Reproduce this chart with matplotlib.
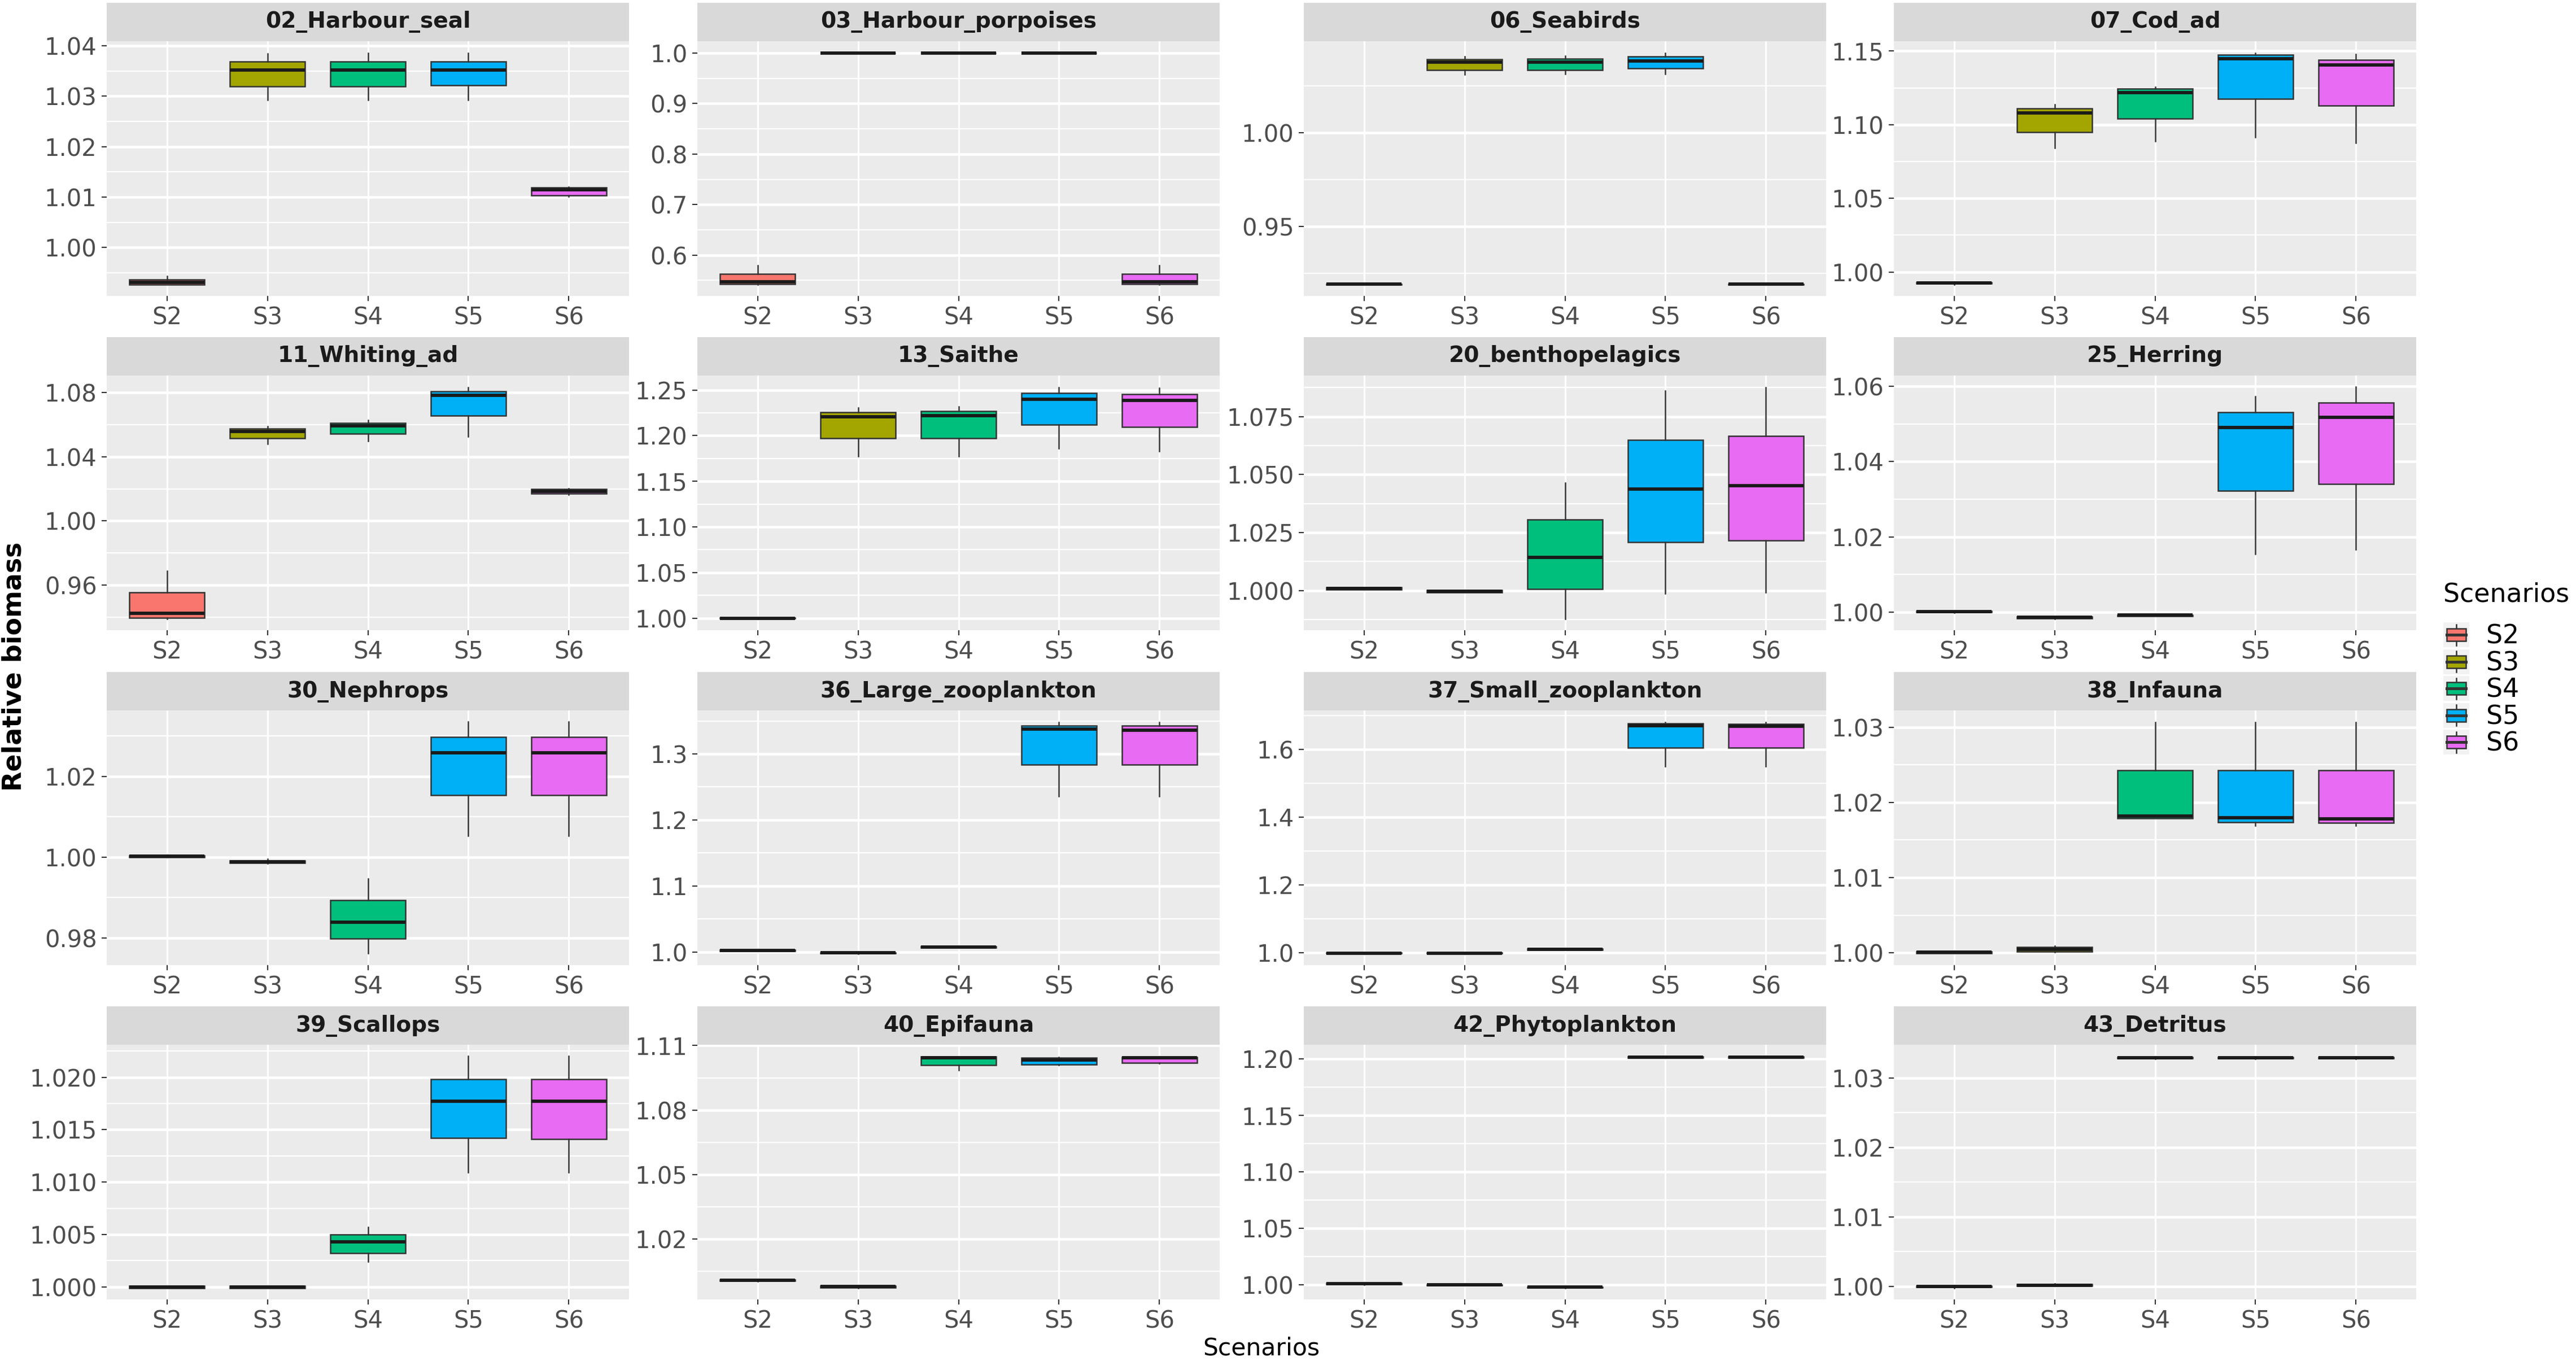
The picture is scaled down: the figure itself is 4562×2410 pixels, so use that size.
import numpy as np
import matplotlib
matplotlib.use("Agg")
import matplotlib.pyplot as plt
from matplotlib.legend_handler import HandlerBase
from matplotlib.patches import Rectangle, Patch
from matplotlib.lines import Line2D

plt.rcParams['font.family'] = ['DejaVu Sans']

# ---- data (whisker low, Q1, median, Q3, whisker high) ----
groups = ['02_Harbour_seal', '03_Harbour_porpoises', '06_Seabirds', '07_Cod_ad',
          '11_Whiting_ad', '13_Saithe', '20_benthopelagics', '25_Herring',
          '30_Nephrops', '36_Large_zooplankton', '37_Small_zooplankton', '38_Infauna',
          '39_Scallops', '40_Epifauna', '42_Phytoplankton', '43_Detritus']
scenarios = ['S2', 'S3', 'S4', 'S5', 'S6']
colors = ['#F8766D', '#A3A500', '#00BF7D', '#00B0F6', '#E76BF3']

whisker_low = [
    [0.9927, 1.0293, 1.0293, 1.0293, 1.0101],
    [0.5420, 0.9995, 0.9995, 0.9995, 0.5420],
    [0.9191, 1.0311, 1.0313, 1.0314, 0.9191],
    [0.9916, 1.0843, 1.0887, 1.0916, 1.0875],
    [0.9391, 1.0482, 1.0499, 1.0527, 1.0165],
    [0.9995, 1.1774, 1.1774, 1.1857, 1.1831],
    [1.0004, 0.9992, 0.9879, 0.9987, 0.9993],
    [0.9999, 0.9983, 0.9989, 1.0155, 1.0167],
    [0.9999, 0.9984, 0.9761, 1.0053, 1.0053],
    [1.0015, 0.9975, 1.0065, 1.2356, 1.2356],
    [0.9975, 0.9975, 1.0085, 1.5504, 1.5504],
    [0.9999, 1.0001, 1.0179, 1.0169, 1.0169],
    [0.9999, 0.9999, 1.0024, 1.0109, 1.0109],
    [1.0003, 0.9972, 1.0986, 1.1010, 1.1018],
    [1.0003, 0.9995, 0.9975, 1.2008, 1.2008],
    [0.9998, 1.0001, 1.0327, 1.0327, 1.0327],
]
q1 = [
    [0.9927, 1.0319, 1.0319, 1.0322, 1.0103],
    [0.5423, 0.9997, 0.9997, 0.9997, 0.5423],
    [0.9191, 1.0335, 1.0335, 1.0342, 0.9191],
    [0.9920, 1.0951, 1.1041, 1.1176, 1.1129],
    [0.9395, 1.0514, 1.0543, 1.0655, 1.0169],
    [0.9998, 1.1972, 1.1972, 1.2121, 1.2093],
    [1.0004, 0.9993, 1.0006, 1.0208, 1.0217],
    [1.0000, 0.9984, 0.9990, 1.0323, 1.0340],
    [1.0000, 0.9985, 0.9798, 1.0153, 1.0153],
    [1.0017, 0.9977, 1.0068, 1.2840, 1.2840],
    [0.9978, 0.9978, 1.0090, 1.6045, 1.6045],
    [0.9999, 1.0002, 1.0179, 1.0174, 1.0173],
    [0.9999, 0.9999, 1.0032, 1.0142, 1.0141],
    [1.0004, 0.9973, 1.1010, 1.1012, 1.1021],
    [1.0005, 0.9996, 0.9977, 1.2010, 1.2010],
    [0.9999, 1.0001, 1.0328, 1.0328, 1.0328],
]
median = [
    [0.9931, 1.0352, 1.0352, 1.0352, 1.0114],
    [0.5474, 1.0000, 1.0000, 1.0000, 0.5474],
    [0.9192, 1.0375, 1.0375, 1.0381, 0.9192],
    [0.9924, 1.1081, 1.1216, 1.1449, 1.1407],
    [0.9425, 1.0559, 1.0593, 1.0782, 1.0186],
    [1.0000, 1.2204, 1.2216, 1.2401, 1.2386],
    [1.0009, 0.9998, 1.0143, 1.0438, 1.0453],
    [1.0001, 0.9986, 0.9992, 1.0491, 1.0517],
    [1.0002, 0.9988, 0.9839, 1.0259, 1.0259],
    [1.0023, 0.9984, 1.0075, 1.3379, 1.3363],
    [0.9987, 0.9987, 1.0102, 1.6700, 1.6687],
    [1.0001, 1.0005, 1.0182, 1.0180, 1.0178],
    [1.0000, 1.0000, 1.0043, 1.0177, 1.0177],
    [1.0008, 0.9978, 1.1044, 1.1032, 1.1044],
    [1.0010, 1.0000, 0.9980, 1.2015, 1.2015],
    [1.0000, 1.0002, 1.0329, 1.0329, 1.0329],
]
q3 = [
    [0.9936, 1.0369, 1.0369, 1.0369, 1.0119],
    [0.5624, 1.0003, 1.0003, 1.0003, 0.5624],
    [0.9193, 1.0391, 1.0395, 1.0406, 0.9193],
    [0.9928, 1.1110, 1.1243, 1.1474, 1.1441],
    [0.9554, 1.0577, 1.0611, 1.0809, 1.0199],
    [1.0003, 1.2256, 1.2266, 1.2469, 1.2453],
    [1.0013, 1.0002, 1.0306, 1.0650, 1.0666],
    [1.0003, 0.9988, 0.9993, 1.0532, 1.0556],
    [1.0004, 0.9991, 0.9893, 1.0298, 1.0298],
    [1.0029, 0.9990, 1.0082, 1.3428, 1.3428],
    [0.9995, 0.9995, 1.0113, 1.6763, 1.6744],
    [1.0002, 1.0008, 1.0243, 1.0243, 1.0243],
    [1.0001, 1.0001, 1.0050, 1.0198, 1.0198],
    [1.0011, 0.9981, 1.1050, 1.1044, 1.1047],
    [1.0016, 1.0004, 0.9984, 1.2020, 1.2020],
    [1.0001, 1.0003, 1.0330, 1.0330, 1.0330],
]
whisker_high = [
    [0.9943, 1.0384, 1.0386, 1.0386, 1.0120],
    [0.5795, 1.0005, 1.0005, 1.0005, 0.5795],
    [0.9193, 1.0406, 1.0408, 1.0426, 0.9193],
    [0.9932, 1.1137, 1.1257, 1.1488, 1.1478],
    [0.9690, 1.0588, 1.0627, 1.0834, 1.0203],
    [1.0006, 1.2304, 1.2318, 1.2531, 1.2519],
    [1.0015, 1.0003, 1.0464, 1.0862, 1.0877],
    [1.0004, 0.9990, 0.9994, 1.0573, 1.0598],
    [1.0005, 0.9996, 0.9947, 1.0335, 1.0335],
    [1.0031, 0.9992, 1.0085, 1.3484, 1.3484],
    [0.9998, 0.9998, 1.0118, 1.6808, 1.6808],
    [1.0002, 1.0009, 1.0307, 1.0307, 1.0307],
    [1.0001, 1.0001, 1.0057, 1.0220, 1.0220],
    [1.0012, 0.9982, 1.1050, 1.1046, 1.1049],
    [1.0018, 1.0005, 0.9985, 1.2021, 1.2021],
    [1.0002, 1.0004, 1.0331, 1.0331, 1.0331],
]
y_tick_labels = [
    ['1.00', '1.01', '1.02', '1.03', '1.04'],
    ['0.6', '0.7', '0.8', '0.9', '1.0'],
    ['0.95', '1.00'],
    ['1.00', '1.05', '1.10', '1.15'],
    ['0.96', '1.00', '1.04', '1.08'],
    ['1.00', '1.05', '1.10', '1.15', '1.20', '1.25'],
    ['1.000', '1.025', '1.050', '1.075'],
    ['1.00', '1.02', '1.04', '1.06'],
    ['0.98', '1.00', '1.02'],
    ['1.0', '1.1', '1.2', '1.3'],
    ['1.0', '1.2', '1.4', '1.6'],
    ['1.00', '1.01', '1.02', '1.03'],
    ['1.000', '1.005', '1.010', '1.015', '1.020'],
    ['1.02', '1.05', '1.08', '1.11'],
    ['1.00', '1.05', '1.10', '1.15', '1.20'],
    ['1.00', '1.01', '1.02', '1.03'],
]

# ---- layout (pixels of the 4562x2410 output) ----
W, H, DPI = 4562, 2410, 300
col_left = [189, 1235, 2309, 3354]
row_top = [5, 597, 1190, 1782]
panel_w, strip_h, plot_h = 925, 68, 451


def px_rect(x, y, w, h):
    return [x / W, 1 - (y + h) / H, w / W, h / H]


class BoxKey(HandlerBase):
    # ggplot-like boxplot legend key
    def create_artists(self, legend, orig_handle, xdescent, ydescent,
                       width, height, fontsize, trans):
        x0, y0 = -xdescent, -ydescent
        bg = Rectangle((x0, y0), width, height, fc='#F2F2F2', ec='none', transform=trans)
        cx = x0 + width / 2
        whisk = Line2D([cx, cx], [y0 + 0.08 * height, y0 + 0.92 * height],
                       color='#333333', lw=0.6, transform=trans)
        box = Rectangle((x0 + 0.12 * width, y0 + 0.25 * height), 0.76 * width, 0.5 * height,
                        fc=orig_handle.get_facecolor(), ec='#333333', lw=0.6, transform=trans)
        med = Line2D([x0 + 0.12 * width, x0 + 0.88 * width], [y0 + height / 2] * 2,
                     color='#333333', lw=1.2, transform=trans)
        return [bg, whisk, box, med]


fig = plt.figure(figsize=(W / DPI, H / DPI), dpi=DPI)
positions = np.arange(1, len(scenarios) + 1)

for i, name in enumerate(groups):
    r, c = divmod(i, 4)
    ax = fig.add_axes(px_rect(col_left[c], row_top[r] + strip_h, panel_w, plot_h))
    st = fig.add_axes(px_rect(col_left[c], row_top[r], panel_w, strip_h))

    stats = [dict(whislo=whisker_low[i][j], q1=q1[i][j], med=median[i][j],
                  q3=q3[i][j], whishi=whisker_high[i][j], label=s)
             for j, s in enumerate(scenarios)]
    bp = ax.bxp(stats, positions=positions, widths=0.75, patch_artist=True,
                showfliers=False, showcaps=False,
                boxprops=dict(edgecolor='#333333', linewidth=0.6),
                whiskerprops=dict(color='#333333', linewidth=0.6),
                medianprops=dict(color='#1A1A1A', linewidth=1.4))
    for patch, col in zip(bp['boxes'], colors):
        patch.set_facecolor(col)

    lo, hi = min(whisker_low[i]), max(whisker_high[i])
    pad = 0.05 * (hi - lo)
    ax.set_ylim(lo - pad, hi + pad)
    ax.set_xlim(0.4, len(scenarios) + 0.6)

    ticks = [float(t) for t in y_tick_labels[i]]
    ax.set_yticks(ticks, y_tick_labels[i])
    step = ticks[1] - ticks[0]
    minors = np.arange(ticks[0] - step / 2, hi + pad, step)
    minors = minors[(minors > lo - pad) & (minors < hi + pad)]
    ax.set_yticks(minors, minor=True)
    ax.set_xticks(positions, scenarios)

    ax.set_facecolor('#EBEBEB')
    ax.set_axisbelow(True)
    ax.grid(which='major', axis='y', color='white', linewidth=1.1)
    ax.grid(which='major', axis='x', color='white', linewidth=0.75)
    ax.grid(which='minor', axis='y', color='white', linewidth=0.55)
    for sp in ax.spines.values():
        sp.set_visible(False)
    ax.tick_params(which='major', length=2.2, width=0.5, color='#333333',
                   labelcolor='#4D4D4D', labelsize=10, pad=2)
    ax.tick_params(which='minor', length=0)

    st.set_facecolor('#D9D9D9')
    st.set_xticks([])
    st.set_yticks([])
    for sp in st.spines.values():
        sp.set_visible(False)
    st.text(0.5, 0.5, name, transform=st.transAxes, ha='center', va='center',
            fontsize=9.4, fontweight='bold', color='#1A1A1A')

fig.text(25 / W, 1 - 1180 / H, 'Relative biomass', rotation=90, ha='center', va='center',
         fontsize=11, fontweight='bold')
fig.text(2234 / W, 1 - 2387 / H, 'Scenarios', ha='center', va='center', fontsize=10.2)

handles = [Patch(facecolor=col, label=s) for s, col in zip(scenarios, colors)]
leg = fig.legend(handles=handles, title='Scenarios', loc='upper left',
                 bbox_to_anchor=(4327 / W, 1 - 1030 / H), frameon=False,
                 fontsize=11, title_fontsize=11, handler_map={Patch: BoxKey()},
                 handlelength=1.0, handleheight=1.1, labelspacing=0.0, handletextpad=0.65,
                 borderpad=0, borderaxespad=0, alignment='left')
leg._legend_box.sep = 6.5  # gap between title and keys, in points

fig.savefig('out.png', dpi=DPI, facecolor='white')
